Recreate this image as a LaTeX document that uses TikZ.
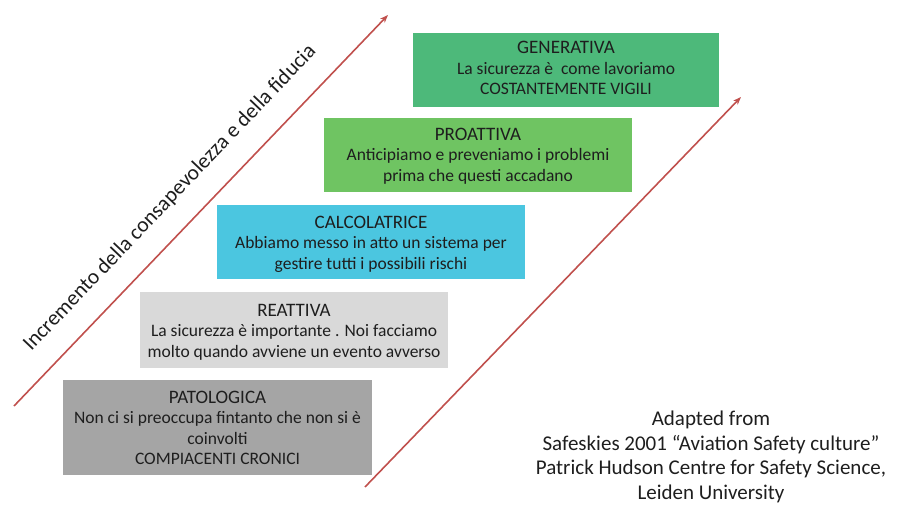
\documentclass[tikz,border=0pt]{standalone}
\usepackage{fontspec}
\setmainfont{Carlito}
\usetikzlibrary{arrows.meta}
\definecolor{arrowred}{HTML}{C0504D}
\definecolor{patgray}{HTML}{A5A5A5}
\definecolor{reagray}{HTML}{D9D9D9}
\definecolor{calccyan}{HTML}{4BC6E0}
\definecolor{progreen}{HTML}{6FC462}
\definecolor{gengreen}{HTML}{4DB97A}
\definecolor{txt}{HTML}{1E1E1E}
\newcommand{\lvtitle}[1]{{\fontsize{19}{20.5}\selectfont #1}}
\begin{document}
\begin{tikzpicture}[x=1pt,y=-1pt,
  levelbox/.style={draw=none, inner sep=0pt, align=center, text=txt,
    font=\fontsize{17.5}{20.5}\selectfont},
  risearrow/.style={draw=arrowred, line width=1.6pt, -{Stealth[length=8pt,width=6pt]}},
  sidelabel/.style={font=\fontsize{21.5}{24}\selectfont, text=txt, inner sep=0pt},
  credit/.style={font=\fontsize{21}{24.5}\selectfont, text=txt, align=center, inner sep=0pt}]
\useasboundingbox (0,0) rectangle (897,504);
% boxes
\fill[patgray] (63,380) rectangle (372,475);
\node[levelbox] (pat) at (217.5,428) {\lvtitle{PATOLOGICA}\\Non ci si preoccupa fintanto che non si è\\coinvolti\\COMPIACENTI CRONICI};
\fill[reagray] (140,292) rectangle (448,368);
\node[levelbox] (rea) at (294,332) {\lvtitle{REATTIVA}\\La sicurezza è importante . Noi facciamo\\molto quando avviene un evento avverso};
\fill[calccyan] (217,205) rectangle (525,279);
\node[levelbox] (calc) at (371,244) {\lvtitle{CALCOLATRICE}\\Abbiamo messo in atto un sistema per\\gestire tutti i possibili rischi};
\fill[progreen] (324,118) rectangle (632,192);
\node[levelbox] (pro) at (478,156) {\lvtitle{PROATTIVA}\\Anticipiamo e preveniamo i problemi\\prima che questi accadano};
\fill[gengreen] (413,33) rectangle (719,107);
\node[levelbox] (gen) at (566,68) {\lvtitle{GENERATIVA}\\La sicurezza è\ \ come lavoriamo\\COSTANTEMENTE VIGILI};
% arrows
\coordinate (la0) at (14,406);
\coordinate (la1) at (388,15);
\coordinate (ra0) at (365,487);
\coordinate (ra1) at (741,97);
\draw[risearrow] (la0) -- (la1);
\draw[risearrow] (ra0) -- (ra1);
% rotated label
\node[sidelabel, rotate=46.4] (lbl) at (170,198) {Incremento della consapevolezza e della fiducia};
% credit
\node[credit, anchor=north] (cred) at (711,411) {Adapted from\\Safeskies 2001 “Aviation Safety culture”\\Patrick Hudson Centre for Safety Science,\\Leiden University};
\end{tikzpicture}
\end{document}
